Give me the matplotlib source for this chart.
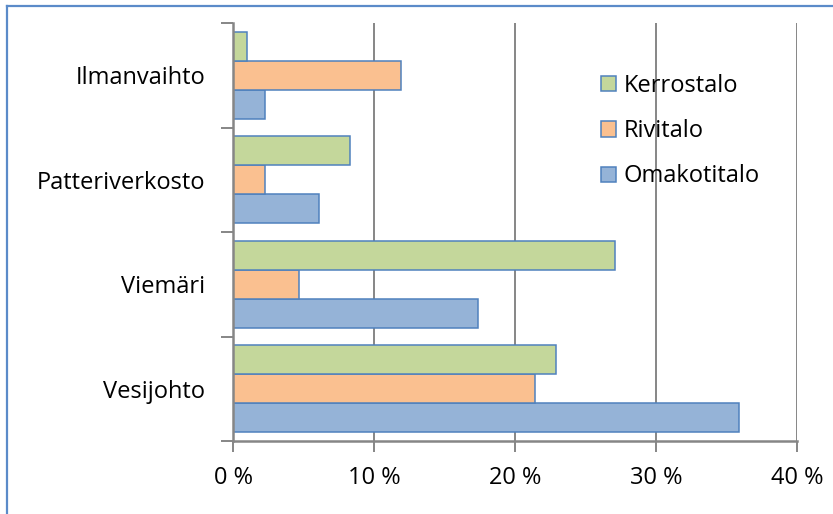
import matplotlib
matplotlib.use("Agg")
import matplotlib.pyplot as plt
import numpy as np
from matplotlib.patches import Patch
from matplotlib.lines import Line2D
from matplotlib.ticker import FuncFormatter

plt.rcParams['font.family'] = ['Open Sans', 'DejaVu Sans']

# bottom to top
categories = ["Vesijohto", "Viemäri", "Patteriverkosto", "Ilmanvaihto"]
series = ["Omakotitalo", "Rivitalo", "Kerrostalo"]
omakotitalo = [35.9, 17.4, 6.1, 2.3]
rivitalo = [21.4, 4.7, 2.3, 11.9]
kerrostalo = [22.9, 27.1, 8.3, 1.0]
x_ticks = [0, 10, 20, 30, 40]

fills = {"Omakotitalo": "#95B3D7", "Rivitalo": "#FAC090", "Kerrostalo": "#C4D79B"}
edge = "#4F81BD"
grey = "#868686"
fs = 17

fig = plt.figure(figsize=(8.33, 5.14), dpi=100)
ax = fig.add_axes([233 / 833, 73 / 514, 564 / 833, 418 / 514])

y = np.arange(len(categories))
h = 0.278
for off, name, vals in zip([-h, 0, h], series, [omakotitalo, rivitalo, kerrostalo]):
    ax.barh(y + off, vals, height=h, color=fills[name], edgecolor=edge, linewidth=1.1)

ax.set_xlim(0, 40)
ax.set_ylim(-0.5, len(categories) - 0.5)
ax.set_xticks(x_ticks)
ax.xaxis.set_major_formatter(FuncFormatter(lambda v, p: f"{v:.0f} %"))
ax.set_yticks(np.arange(len(categories) + 1) - 0.5)
ax.set_yticklabels([])
ax.set_yticks(y, minor=True)
ax.set_yticklabels(categories, minor=True)

ax.set_axisbelow(True)
ax.grid(axis="x", color=grey, linewidth=1.4)
for s in ["top", "right"]:
    ax.spines[s].set_visible(False)
for s in ["left", "bottom"]:
    ax.spines[s].set_color(grey)
    ax.spines[s].set_linewidth(1.8)

ax.tick_params(axis="x", which="major", length=8, width=1.4, color=grey,
               labelsize=fs, pad=10)
ax.tick_params(axis="y", which="major", length=9, width=1.4, color=grey)
ax.tick_params(axis="y", which="minor", length=0, labelsize=fs, pad=20)

handles = [Patch(facecolor=fills[n], edgecolor=edge, linewidth=1.1) for n in ["Kerrostalo", "Rivitalo", "Omakotitalo"]]
fig.legend(handles, ["Kerrostalo", "Rivitalo", "Omakotitalo"], loc="upper left",
           bbox_to_anchor=(601 / 833, 1 - 74 / 514), frameon=False, fontsize=fs,
           handlelength=0.65, handleheight=0.62, handletextpad=0.3, labelspacing=0.9,
           borderpad=0, borderaxespad=0)

# outer frame (left and top edges)
fig.add_artist(Line2D([6.5 / 833, 6.5 / 833], [0, 1 - 5.5 / 514], transform=fig.transFigure,
                      color="#5B8BC9", linewidth=1.6))
fig.add_artist(Line2D([6.5 / 833, 1], [1 - 5.5 / 514, 1 - 5.5 / 514], transform=fig.transFigure,
                      color="#5B8BC9", linewidth=1.6))

fig.savefig("out.png", dpi=100)
